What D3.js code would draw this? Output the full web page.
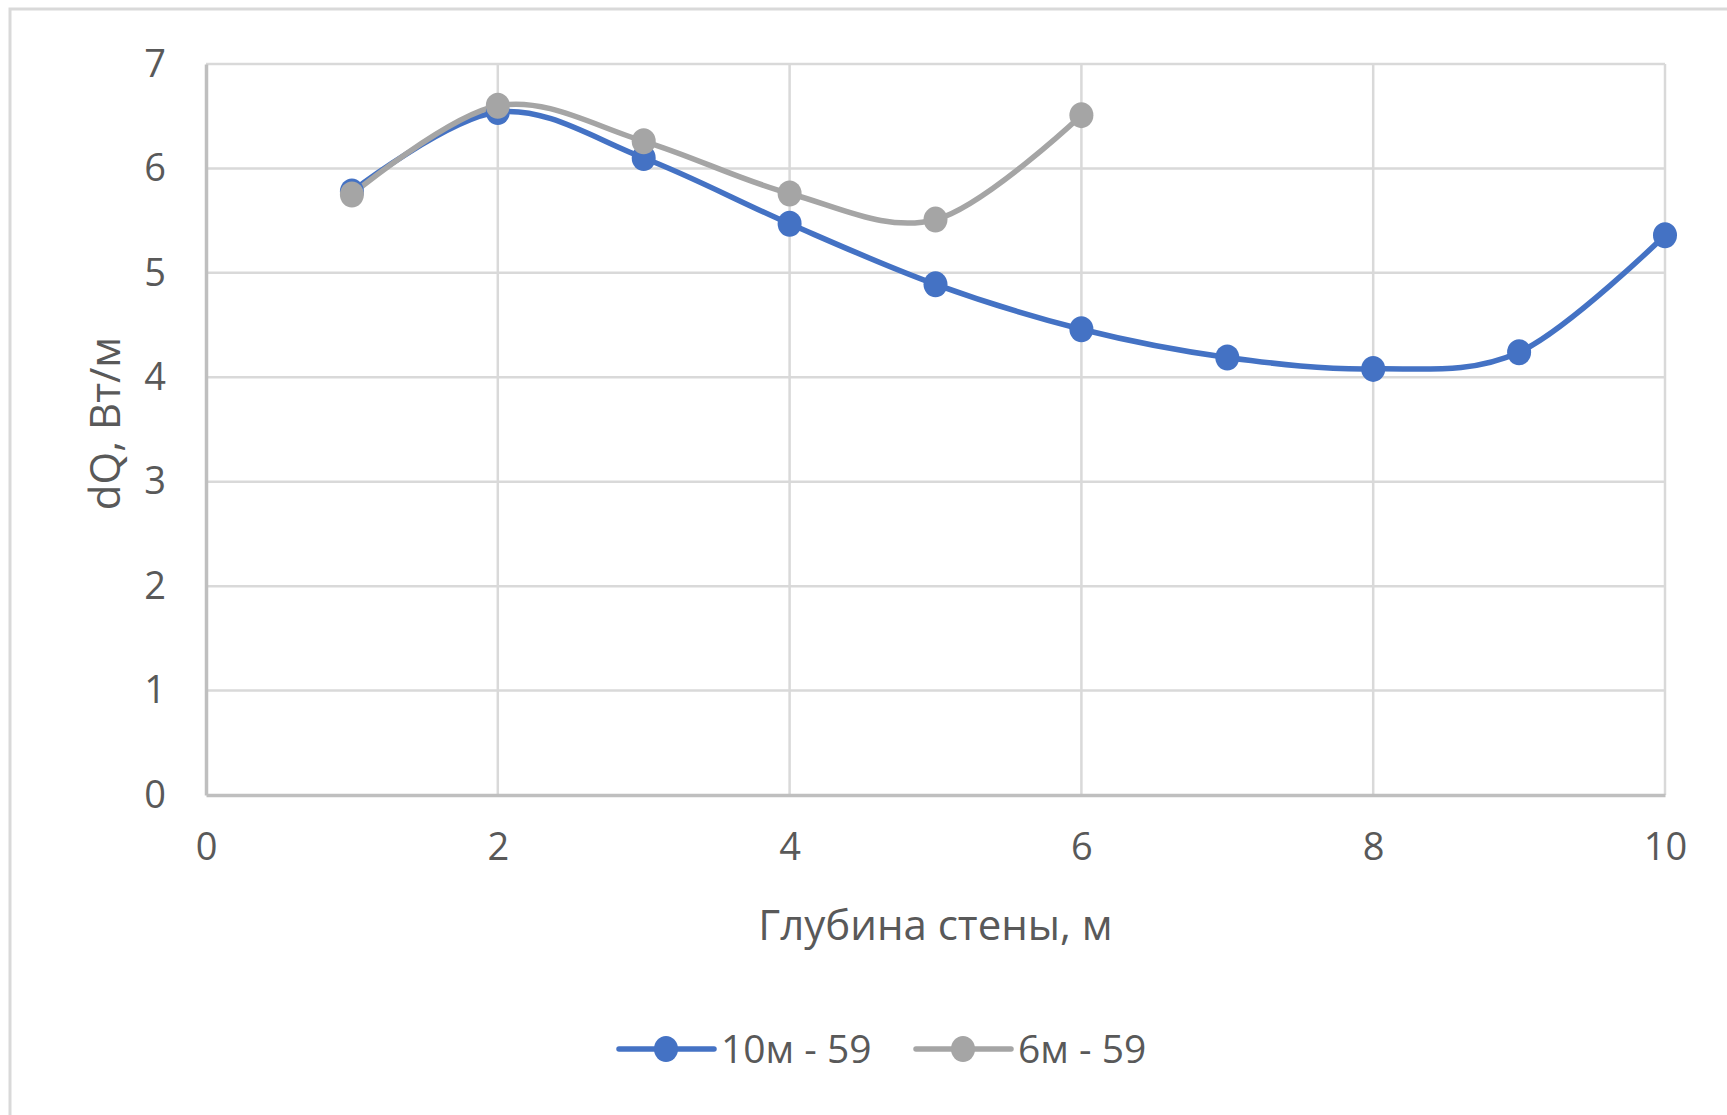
<!DOCTYPE html>
<html><head><meta charset="utf-8">
<script src="https://cdn.jsdelivr.net/npm/d3@7"></script>
<style>html,body{margin:0;padding:0;background:#fff;}svg{display:block;}</style>
</head><body>
<script>
const xValues = [1, 2, 3, 4, 5, 6, 7, 8, 9, 10];
const series10 = [5.78, 6.54, 6.10, 5.47, 4.89, 4.46, 4.19, 4.08, 4.24, 5.36];
const xValues6 = [1, 2, 3, 4, 5, 6];
const series6 = [5.75, 6.60, 6.26, 5.76, 5.51, 6.51];
const seriesNames = ["10м - 59", "6м - 59"];
const seriesColors = ["#4472C4", "#A5A5A5"];
const xTicks = [0, 2, 4, 6, 8, 10];
const yTicks = [0, 1, 2, 3, 4, 5, 6, 7];
const xTitle = "Глубина стены, м";
const yTitle = "dQ, Вт/м";

const W = 1727, H = 1115;
const font = "'Open Sans', 'Noto Sans', sans-serif";
const txt = "#595959";
const svg = d3.select("body").append("svg").attr("width", W).attr("height", H);

svg.append("rect").attr("x", 10).attr("y", 9).attr("width", W + 20).attr("height", H + 20)
  .attr("fill", "#fff").attr("stroke", "#D9D9D9").attr("stroke-width", 3);

const L = 206, R = 1665, T = 64, B = 795;
const x = d3.scaleLinear().domain([0, 10]).range([L, R]);
const y = d3.scaleLinear().domain([0, 7]).range([B, T]);

const g = svg.append("g");
g.selectAll(".hg").data(yTicks.filter(v => v > 0)).enter().append("line")
  .attr("x1", L).attr("x2", R).attr("y1", d => y(d)).attr("y2", d => y(d))
  .attr("stroke", "#D9D9D9").attr("stroke-width", 2.5);
g.selectAll(".vg").data(xTicks.filter(v => v > 0)).enter().append("line")
  .attr("x1", d => x(d)).attr("x2", d => x(d)).attr("y1", T).attr("y2", B)
  .attr("stroke", "#D9D9D9").attr("stroke-width", 2.5);

const xAxis = svg.append("g").attr("transform", `translate(0,${B})`)
  .call(d3.axisBottom(x).tickValues(xTicks).tickFormat(d3.format("d")).tickSize(0).tickPadding(40));
const yAxis = svg.append("g").attr("transform", `translate(${L},0)`)
  .call(d3.axisLeft(y).tickValues(yTicks).tickFormat(d3.format("d")).tickSize(0).tickPadding(40));
[xAxis, yAxis].forEach(a => {
  a.select(".domain").attr("stroke", "#BFBFBF").attr("stroke-width", 3.5);
  a.selectAll("text").attr("fill", txt).style("font-family", font).style("font-size", "38px");
});
xAxis.selectAll("text").attr("dy", "0.71em").attr("y", 38);

const line = d3.line().x(d => x(d[0])).y(d => y(d[1])).curve(d3.curveCardinal.tension(0));
const data = [
  xValues.map((v, i) => [v, series10[i]]),
  xValues6.map((v, i) => [v, series6[i]])
];
data.forEach((pts, i) => {
  svg.append("path").datum(pts).attr("d", line).attr("fill", "none")
    .attr("stroke", seriesColors[i]).attr("stroke-width", 5.5).attr("stroke-linecap", "round");
});
data.forEach((pts, i) => {
  svg.selectAll(".m" + i).data(pts).enter().append("ellipse")
    .attr("cx", d => x(d[0])).attr("cy", d => y(d[1])).attr("rx", 12).attr("ry", 13)
    .attr("fill", seriesColors[i]);
});

svg.append("text").attr("x", (L + R) / 2).attr("y", 925).attr("dy", "0.35em")
  .attr("text-anchor", "middle").attr("fill", txt).style("font-family", font).style("font-size", "42px")
  .text(xTitle);
svg.append("text").attr("transform", `translate(105,${(T + B) / 2 - 6}) rotate(-90)`).attr("dy", "0.35em")
  .attr("text-anchor", "middle").attr("fill", txt).style("font-family", font).style("font-size", "42px")
  .text(yTitle);

const legY = 1049;
const legX = [619, 916];
seriesNames.forEach((name, i) => {
  const lg = svg.append("g").attr("transform", `translate(${legX[i]},${legY})`);
  lg.append("line").attr("x1", 0).attr("x2", 95).attr("y1", 0).attr("y2", 0)
    .attr("stroke", seriesColors[i]).attr("stroke-width", 5.5).attr("stroke-linecap", "round");
  lg.append("ellipse").attr("cx", 47).attr("cy", 0).attr("rx", 12).attr("ry", 13).attr("fill", seriesColors[i]);
  lg.append("text").attr("x", 102).attr("dy", "0.35em").attr("fill", txt)
    .style("font-family", font).style("font-size", "39px").text(name);
});
</script>
</body></html>
